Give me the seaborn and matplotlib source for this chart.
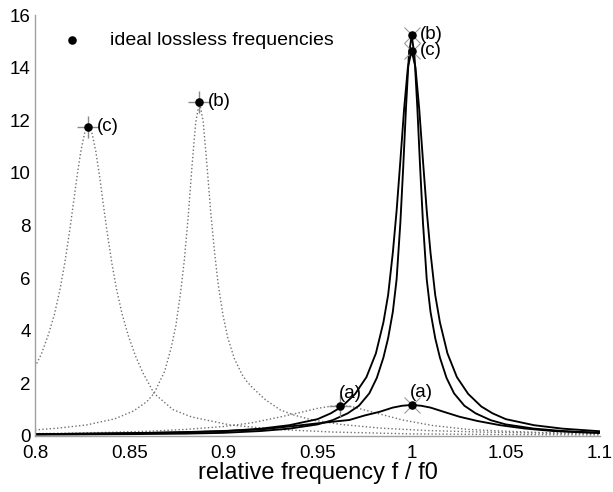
import numpy as np
import pandas as pd
import seaborn as sns
import matplotlib
matplotlib.use("Agg")
import matplotlib.pyplot as plt

# dotted (lossy, shifted) curves
c_dot_x = [0.80, 0.8033, 0.8071, 0.8103, 0.8133, 0.8158, 0.8183, 0.8203, 0.8223, 0.8243, 0.8263, 0.8283,
           0.8303, 0.8323, 0.8343, 0.8363, 0.8383, 0.8408, 0.8433, 0.8463, 0.8495, 0.8533, 0.8573, 0.8632,
           0.8733, 0.8833, 0.9036, 0.9283, 0.9583, 1.0, 1.05, 1.1]
c_dot_y = [2.63, 3.1, 3.85, 4.62, 5.58, 6.57, 7.75, 8.79, 9.86, 10.81, 11.5, 11.75,
           11.5, 10.81, 9.86, 8.79, 7.75, 6.57, 5.58, 4.62, 3.82, 3.05, 2.4, 1.62,
           1.0, 0.72, 0.42, 0.25, 0.15, 0.08, 0.055, 0.04]

b_dot_x = [0.80, 0.8123, 0.8273, 0.8423, 0.8523, 0.8593, 0.8632, 0.8688, 0.8723, 0.8748, 0.8773, 0.8793,
           0.8813, 0.8833, 0.8853, 0.8873, 0.8893, 0.8913, 0.8933, 0.8953, 0.8973, 0.8998, 0.9023, 0.9058,
           0.9098, 0.9124, 0.9153, 0.9223, 0.9303, 0.9373, 0.9473, 0.9623, 0.9833, 1.0073, 1.0373, 1.0673, 1.1]
b_dot_y = [0.23, 0.30, 0.42, 0.65, 0.95, 1.30, 1.62, 2.45, 3.35, 4.2, 5.45, 6.7,
           8.3, 10.2, 11.9, 12.71, 11.95, 10.3, 8.5, 7.0, 5.75, 4.6, 3.75, 2.95,
           2.35, 2.08, 1.85, 1.38, 0.99, 0.80, 0.61, 0.44, 0.30, 0.21, 0.15, 0.11, 0.08]

a_dot_x = [0.80, 0.82, 0.84, 0.86, 0.88, 0.90, 0.915, 0.93, 0.94, 0.95, 0.956, 0.962, 0.968, 0.976,
           0.985, 0.995, 1.011, 1.03, 1.047, 1.07, 1.1]
a_dot_y = [0.09, 0.11, 0.14, 0.18, 0.25, 0.36, 0.50, 0.72, 0.88, 1.05, 1.12, 1.15, 1.12, 0.97,
           0.80, 0.61, 0.40, 0.25, 0.19, 0.13, 0.09]

# solid (resonant at f0) curves
a_sol_x = [0.80, 0.83, 0.86, 0.88, 0.90, 0.92, 0.94, 0.955, 0.967, 0.975, 0.983, 0.99, 0.995, 1.0,
           1.005, 1.01, 1.017, 1.0255, 1.035, 1.047, 1.06, 1.075, 1.09, 1.1]
a_sol_y = [0.07, 0.09, 0.12, 0.15, 0.19, 0.25, 0.40, 0.52, 0.61, 0.78, 0.92, 1.08, 1.15, 1.18,
           1.15, 1.08, 0.92, 0.73, 0.57, 0.41, 0.285, 0.19, 0.14, 0.12]

b_sol_x = [0.80, 0.85, 0.88, 0.90, 0.92, 0.935, 0.95, 0.958, 0.966, 0.972, 0.9775, 0.9815, 0.985,
           0.9875, 0.99, 0.992, 0.994, 0.9955, 0.997, 0.9985, 1.0,
           1.0015, 1.003, 1.0045, 1.006, 1.008, 1.01, 1.0125, 1.015, 1.0185, 1.0225, 1.028, 1.034,
           1.042, 1.05, 1.065, 1.08, 1.1]
b_sol_y = [0.05, 0.07, 0.09, 0.12, 0.19, 0.28, 0.44, 0.60, 0.86, 1.15, 1.62, 2.21, 2.98,
           3.72, 4.72, 5.95, 8.11, 10.2, 12.49, 14.45, 15.24,
           14.45, 12.49, 10.2, 8.11, 5.95, 4.72, 3.72, 2.98, 2.21, 1.62, 1.15, 0.86,
           0.60, 0.44, 0.28, 0.19, 0.12]

c_sol_x = [0.80, 0.85, 0.88, 0.90, 0.92, 0.935, 0.95, 0.957, 0.963, 0.97, 0.976, 0.981, 0.985,
           0.9875, 0.99, 0.992, 0.994, 0.996, 0.998, 1.0,
           1.002, 1.004, 1.006, 1.008, 1.01, 1.0125, 1.015, 1.019, 1.024, 1.03, 1.037, 1.043,
           1.05, 1.065, 1.08, 1.1]
c_sol_y = [0.07, 0.10, 0.14, 0.18, 0.28, 0.41, 0.64, 0.86, 1.12, 1.60, 2.24, 3.14, 4.32,
           5.36, 6.97, 8.56, 10.46, 12.44, 14.02, 14.64,
           14.02, 12.44, 10.46, 8.56, 6.97, 5.36, 4.32, 3.14, 2.24, 1.60, 1.12, 0.86,
           0.64, 0.41, 0.28, 0.18]

# peak markers
peak_x = [0.8283, 0.8873, 0.962, 1.0, 1.0, 1.0]
peak_y = [11.75, 12.71, 1.15, 1.18, 15.24, 14.64]
peak_labels = ["(c)", "(b)", "(a)", "(a)", "(b)", "(c)"]

sns.set_theme(style="white")
plt.rcParams['font.family'] = ['Liberation Sans', 'DejaVu Sans']
plt.rcParams['text.color'] = 'black'
plt.rcParams['axes.labelcolor'] = 'black'
plt.rcParams['xtick.labelcolor'] = 'black'
plt.rcParams['ytick.labelcolor'] = 'black'

fig = plt.figure(figsize=(6.13, 4.92), dpi=100)
ax = fig.add_axes([35 / 613, 1 - 436 / 492, 565 / 613, 421 / 492])

dotted = [(c_dot_x, c_dot_y), (b_dot_x, b_dot_y), (a_dot_x, a_dot_y)]
solid = [(a_sol_x, a_sol_y), (b_sol_x, b_sol_y), (c_sol_x, c_sol_y)]
for xs, ys in dotted:
    sns.lineplot(x=xs, y=ys, ax=ax, color="#707070", linestyle=":", linewidth=1.0,
                 estimator=None, sort=False)
for xs, ys in solid:
    sns.lineplot(x=xs, y=ys, ax=ax, color="black", linestyle="-", linewidth=1.35,
                 estimator=None, sort=False)

# gray markers of the computed peaks
ax.plot(peak_x[:3], peak_y[:3], linestyle="none", marker="+", markersize=16,
        markeredgewidth=1.0, color="#8a8a8a")
ax.plot(peak_x[3:], peak_y[3:], linestyle="none", marker="x", markersize=11,
        markeredgewidth=0.8, color="#9a9a9a")

sns.scatterplot(x=peak_x, y=peak_y, ax=ax, color="black", s=38, edgecolor="black",
                linewidth=0, zorder=5, label="ideal lossless frequencies")

for px, py, lab in zip(peak_x, peak_y, peak_labels):
    if lab == "(a)":
        ax.annotate(lab, (px, py), xytext=(-1, 3), textcoords="offset points",
                    ha="left", va="bottom", fontsize=13.5)
    else:
        ax.annotate(lab, (px, py), xytext=(6, 0), textcoords="offset points",
                    ha="left", va="center", fontsize=13.5)

ax.set_xlim(0.8, 1.1)
ax.set_ylim(0, 16)
ax.set_xticks([0.8, 0.85, 0.9, 0.95, 1.0, 1.05, 1.1])
ax.set_xticklabels(["0.8", "0.85", "0.9", "0.95", "1", "1.05", "1.1"])
ax.set_yticks(range(0, 17, 2))
ax.tick_params(axis="both", direction="in", length=4, color="#999999", labelsize=13.5, pad=3)
ax.tick_params(axis="x", pad=6.5)
ax.set_xlabel("relative frequency f / f0", fontsize=17, labelpad=0)

sns.despine(ax=ax, top=True, right=True)
for side in ["left", "bottom"]:
    ax.spines[side].set_color("#a0a0a0")
    ax.spines[side].set_linewidth(1.0)

leg = ax.legend(loc="center left", bbox_to_anchor=(0.048, 0.94), frameon=False, fontsize=14,
                handlelength=1.0, handletextpad=1.46, borderpad=0, borderaxespad=0)

fig.savefig("out.png", dpi=100)
